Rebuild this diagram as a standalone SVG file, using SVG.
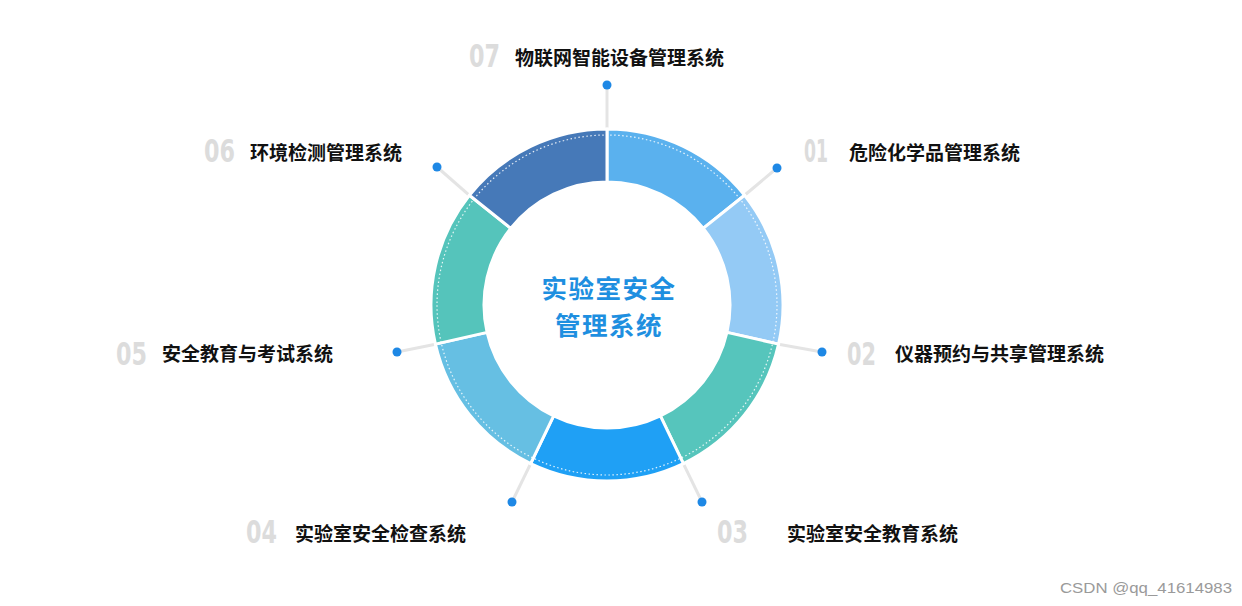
<svg xmlns="http://www.w3.org/2000/svg" width="1242" height="606" viewBox="0 0 1242 606">
<style>
.seg{stroke:#ffffff;stroke-width:3;stroke-linejoin:round}
.num{font-family:"DejaVu Sans","Liberation Sans",sans-serif;font-size:32px;font-weight:700;fill:#dcdcdc}
.lbl{font-family:"Noto Sans CJK SC","Noto Sans",sans-serif;font-size:19px;font-weight:700;fill:#111111}
.ctr{font-family:"Noto Sans CJK SC","Noto Sans",sans-serif;font-size:25.5px;letter-spacing:1.5px;font-weight:700;fill:#1e8fe0}
.con{stroke:#e4e4e4;stroke-width:3;fill:none}
.dot{fill:#1e88e5}
</style>
<rect width="1242" height="606" fill="#ffffff"/>
<g id="connectors">
<line class="con" x1="607" y1="85" x2="607" y2="129"/>
<line class="con" x1="777" y1="168" x2="744.6" y2="195.27"/>
<line class="con" x1="822" y1="352" x2="778.59" y2="344.16"/>
<line class="con" x1="702" y1="502" x2="683.36" y2="463.57"/>
<line class="con" x1="512" y1="502" x2="530.64" y2="463.57"/>
<line class="con" x1="397" y1="352" x2="435.41" y2="344.16"/>
<line class="con" x1="437" y1="167" x2="469.4" y2="195.27"/>
<circle class="dot" cx="607" cy="85" r="4.5"/>
<circle class="dot" cx="777" cy="168" r="4.5"/>
<circle class="dot" cx="822" cy="352" r="4.5"/>
<circle class="dot" cx="702" cy="502" r="4.5"/>
<circle class="dot" cx="512" cy="502" r="4.5"/>
<circle class="dot" cx="397" cy="352" r="4.5"/>
<circle class="dot" cx="437" cy="167" r="4.5"/>
</g>
<g id="ring">
<path class="seg" fill="#5ab1ee" d="M607 129 A176 176 0 0 1 744.6 195.27 L703.17 228.31 A123 123 0 0 0 607 182 Z"/>
<path class="seg" fill="#94caf5" d="M744.6 195.27 A176 176 0 0 1 778.59 344.16 L726.92 332.37 A123 123 0 0 0 703.17 228.31 Z"/>
<path class="seg" fill="#56c5bc" d="M778.59 344.16 A176 176 0 0 1 683.36 463.57 L660.37 415.82 A123 123 0 0 0 726.92 332.37 Z"/>
<path class="seg" fill="#1fa0f5" d="M683.36 463.57 A176 176 0 0 1 530.64 463.57 L553.63 415.82 A123 123 0 0 0 660.37 415.82 Z"/>
<path class="seg" fill="#66bfe3" d="M530.64 463.57 A176 176 0 0 1 435.41 344.16 L487.08 332.37 A123 123 0 0 0 553.63 415.82 Z"/>
<path class="seg" fill="#55c4bb" d="M435.41 344.16 A176 176 0 0 1 469.4 195.27 L510.83 228.31 A123 123 0 0 0 487.08 332.37 Z"/>
<path class="seg" fill="#4679b8" d="M469.4 195.27 A176 176 0 0 1 607 129 L607 182 A123 123 0 0 0 510.83 228.31 Z"/>
<circle cx="607" cy="305" r="170" fill="none" stroke="#ffffff" stroke-width="1.2" stroke-dasharray="1.5 2.5" opacity="0.85"/>
</g>
<g id="center">
<text class="ctr" x="609" y="298" text-anchor="middle">实验室安全</text>
<text class="ctr" x="609" y="335" text-anchor="middle">管理系统</text>
</g>
<g id="node-07">
<text class="num" x="469" y="67" textLength="31" lengthAdjust="spacingAndGlyphs">07</text>
<text class="lbl" x="515" y="65">物联网智能设备管理系统</text>
</g>
<g id="node-01">
<text class="num" x="804" y="162" textLength="24" lengthAdjust="spacingAndGlyphs">01</text>
<text class="lbl" x="849" y="160">危险化学品管理系统</text>
</g>
<g id="node-02">
<text class="num" x="847" y="365" textLength="29" lengthAdjust="spacingAndGlyphs">02</text>
<text class="lbl" x="895" y="361">仪器预约与共享管理系统</text>
</g>
<g id="node-03">
<text class="num" x="717" y="543" textLength="31" lengthAdjust="spacingAndGlyphs">03</text>
<text class="lbl" x="787" y="541">实验室安全教育系统</text>
</g>
<g id="node-04">
<text class="num" x="246" y="543" textLength="31" lengthAdjust="spacingAndGlyphs">04</text>
<text class="lbl" x="295" y="541">实验室安全检查系统</text>
</g>
<g id="node-05">
<text class="num" x="116" y="365" textLength="31" lengthAdjust="spacingAndGlyphs">05</text>
<text class="lbl" x="162" y="361">安全教育与考试系统</text>
</g>
<g id="node-06">
<text class="num" x="204" y="162" textLength="31" lengthAdjust="spacingAndGlyphs">06</text>
<text class="lbl" x="250" y="160">环境检测管理系统</text>
</g>
<text x="1060" y="593" font-family="Liberation Sans,sans-serif" font-size="15" fill="#9a9a9a" textLength="172" lengthAdjust="spacingAndGlyphs">CSDN @qq_41614983</text>
</svg>
